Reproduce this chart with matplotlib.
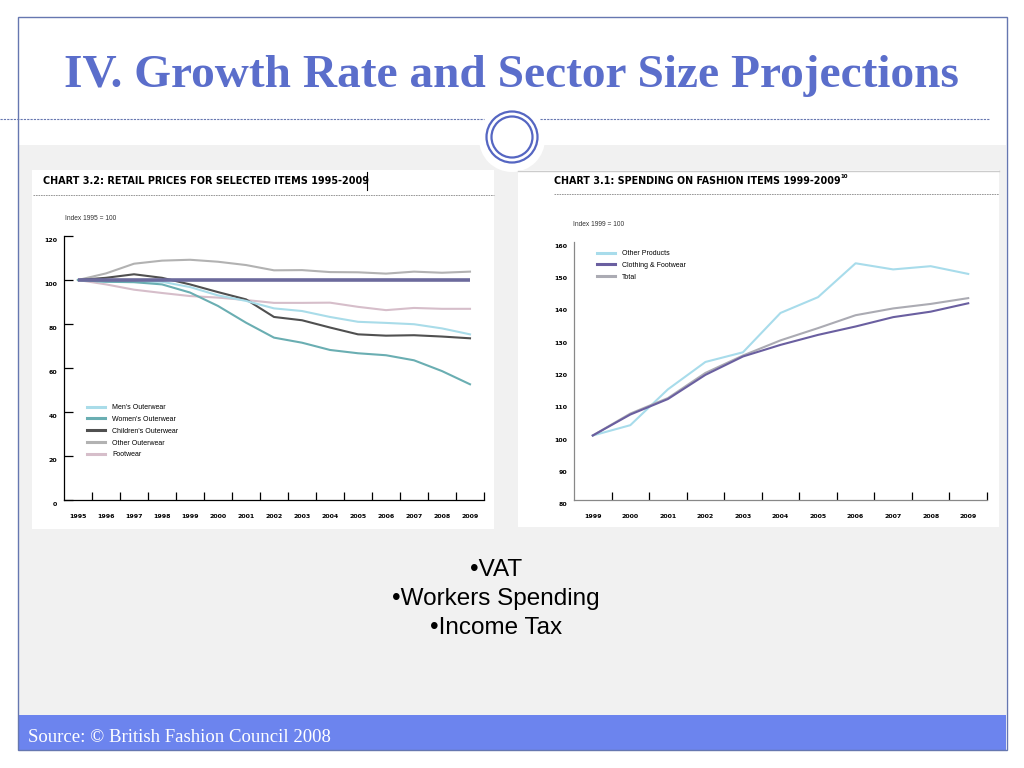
import matplotlib
matplotlib.use("Agg")
import matplotlib.pyplot as plt
from matplotlib.patches import Rectangle, Circle
from matplotlib.transforms import ScaledTranslation

# ─────────────────────────────────────────────
# Data
# ─────────────────────────────────────────────
YEARS_PRICES = ["1995", "1996", "1997", "1998", "1999", "2000", "2001", "2002",
                "2003", "2004", "2005", "2006", "2007", "2008", "2009"]
MENS_OUTERWEAR      = [100, 99.2, 99.2, 99.2, 96.8, 93.0, 90.5, 87.1, 85.9, 83.2, 81.0, 80.5, 79.9, 78.0, 75.3]
WOMENS_OUTERWEAR    = [100, 99.2, 99.0, 98.0, 94.3, 88.2, 80.6, 73.8, 71.5, 68.2, 66.7, 65.8, 63.5, 58.6, 52.6]
CHILDRENS_OUTERWEAR = [100, 101.0, 102.6, 101.0, 98.0, 94.5, 91.2, 83.2, 81.7, 78.4, 75.3, 74.7, 74.9, 74.3, 73.5]
OTHER_OUTERWEAR     = [100, 103.0, 107.4, 108.8, 109.2, 108.3, 106.8, 104.4, 104.5, 103.6, 103.5, 102.9, 103.8, 103.3, 103.8]
FOOTWEAR            = [100, 98.0, 95.6, 94.1, 92.7, 92.0, 90.9, 89.6, 89.6, 89.7, 87.8, 86.3, 87.3, 86.9, 86.9]
INDEX_BASE = 100

YEARS_SPEND = ["1999", "2000", "2001", "2002", "2003", "2004", "2005", "2006",
               "2007", "2008", "2009"]
OTHER_PRODUCTS = [100, 103.2, 114.3, 122.8, 125.8, 138.0, 142.9, 153.4, 151.5, 152.5, 150.1]
CLOTHING_FOOT  = [100, 106.5, 111.3, 118.8, 124.5, 128.1, 131.2, 133.8, 136.7, 138.4, 141.0]
TOTAL_SPEND    = [100, 106.8, 111.6, 119.4, 124.8, 129.5, 133.3, 137.3, 139.4, 140.8, 142.6]

BULLETS = ["•VAT", "•Workers Spending", "•Income Tax"]

# ─────────────────────────────────────────────
# Style
# ─────────────────────────────────────────────
W, H = 1024, 768
BLUE_TITLE = "#5B6ECB"
FRAME      = "#6677B0"
FOOTER     = "#6C84EE"
GREY_BG    = "#F1F1F1"

fig = plt.figure(figsize=(W / 100, H / 100), dpi=100, facecolor="white")
renderer = fig.canvas.get_renderer()


def rect(l, t, r, b):
    """pixel box -> figure fraction rect"""
    return [l / W, 1 - b / H, (r - l) / W, (b - t) / H]


def fit_width(txt, target_px):
    """rescale a text so it spans target_px"""
    w = txt.get_window_extent(renderer).width
    txt.set_fontsize(txt.get_fontsize() * target_px / w)


# background layer in pixel coordinates
bg = fig.add_axes([0, 0, 1, 1])
bg.set_xlim(0, W)
bg.set_ylim(H, 0)
bg.axis("off")

bg.add_patch(Rectangle((18, 145), 988, 570, color=GREY_BG, lw=0))
bg.add_patch(Circle((512, 139), 33, color="white", lw=0))
bg.add_patch(Circle((512, 137), 25.5, fill=False, ec="#5566C2", lw=1.6))
bg.add_patch(Circle((512, 137), 20.5, fill=False, ec="#5566C2", lw=1.6))
bg.add_patch(Rectangle((18, 715), 988, 35, color=FOOTER, lw=0))
bg.add_patch(Rectangle((17.5, 17), 989, 733, fill=False, ec=FRAME, lw=1))

for x0, x1 in [(0, 484), (540, 990)]:
    bg.plot([x0, x1], [119, 119], color=FRAME, lw=0.8, ls=(0, (2, 1)))

t = bg.text(511, 76, "IV. Growth Rate and Sector Size Projections", ha="center", va="center",
            family="Liberation Serif", weight="bold", fontsize=32, color=BLUE_TITLE)
fit_width(t, 898)
t = bg.text(28, 738, "Source: © British Fashion Council 2008", ha="left", va="center",
            family="Liberation Serif", fontsize=13, color="white")
fit_width(t, 301)

for i, b in enumerate(BULLETS):
    bg.text(496, 570 + i * 29, b, ha="center", va="center",
            family="Liberation Sans", fontsize=17.5, color="black")

# chart boxes
bg.add_patch(Rectangle((32, 170), 462, 359, color="white", lw=0))
bg.add_patch(Rectangle((518, 170), 481, 357, color="white", lw=0))
bg.plot([518, 999], [170.5, 170.5], color="#CCCCCC", lw=1)

t = bg.text(43, 181, "CHART 3.2: RETAIL PRICES FOR SELECTED ITEMS 1995-2009", ha="left", va="center",
            family="DejaVu Sans", stretch="condensed", weight="bold", fontsize=9, color="black")
fit_width(t, 323)
bg.plot([367, 367], [172, 190], color="black", lw=0.8)
bg.plot([33, 494], [195, 195], color="#888888", lw=0.6, ls=(0, (2, 1)))
bg.text(65, 218, "Index 1995 = 100", ha="left", va="center",
        family="Liberation Sans", fontsize=4.8, color="#333333")

t = bg.text(554, 181, "CHART 3.1: SPENDING ON FASHION ITEMS 1999-2009", ha="left", va="center",
            family="DejaVu Sans", stretch="condensed", weight="bold", fontsize=9, color="black")
fit_width(t, 285)
bg.text(840, 177, "10", ha="left", va="center",
        family="DejaVu Sans", weight="bold", fontsize=4, color="black")
bg.plot([554, 999], [194, 194], color="#888888", lw=0.6, ls=(0, (2, 1)))
bg.text(573, 225, "Index 1999 = 100", ha="left", va="center",
        family="Liberation Sans", fontsize=4.8, color="#333333")


def style_axis(ax, n, spine_color, ylabel_shift):
    ax.patch.set_alpha(0)
    for s in ["top", "right"]:
        ax.spines[s].set_visible(False)
    for s in ["left", "bottom"]:
        ax.spines[s].set_color(spine_color)
        ax.spines[s].set_linewidth(0.9)
    ax.set_xlim(-0.5, n - 0.5)
    ax.set_xticks(range(n))
    ax.set_xticks([i + 0.5 for i in range(n)], minor=True)
    ax.tick_params(axis="x", which="major", length=0, pad=10, labelsize=4.5)
    ax.tick_params(axis="x", which="minor", direction="in", length=5.5, width=0.9, color="black")
    for lab in ax.get_xticklabels() + ax.get_yticklabels():
        lab.set_fontweight("bold")
        lab.set_family("DejaVu Sans")
    for lab in ax.get_yticklabels():
        lab.set_transform(lab.get_transform() + ScaledTranslation(0, -ylabel_shift / 100, fig.dpi_scale_trans))


def small_legend(ax, order, top_px, left_px):
    h, l = ax.get_legend_handles_labels()
    hh = [h[l.index(o)] for o in order]
    leg = ax.legend(hh, order, loc="upper left", bbox_to_anchor=(left_px / W, 1 - top_px / H),
                    bbox_transform=fig.transFigure, frameon=False, borderpad=0, borderaxespad=0,
                    handlelength=2.6, handletextpad=1.0, labelspacing=0.7,
                    prop={"family": "Liberation Sans", "size": 5})
    for ln in leg.get_lines():
        ln.set_linewidth(2.2)


# ─────────────────────────────────────────────
# Chart 3.2 — retail prices
# ─────────────────────────────────────────────
ax1 = fig.add_axes(rect(64, 236, 484, 500))
x1 = range(len(YEARS_PRICES))
ax1.hlines(INDEX_BASE, 0, len(YEARS_PRICES) - 1, color="#6C6A9C", lw=2.6, zorder=5)
ax1.plot(x1, OTHER_OUTERWEAR, color="#B2B2B2", lw=1.5, label="Other Outerwear")
ax1.plot(x1, FOOTWEAR, color="#D6BECA", lw=1.5, label="Footwear")
ax1.plot(x1, CHILDRENS_OUTERWEAR, color="#505050", lw=1.5, label="Children's Outerwear")
ax1.plot(x1, MENS_OUTERWEAR, color="#A9DCE9", lw=1.5, label="Men's Outerwear")
ax1.plot(x1, WOMENS_OUTERWEAR, color="#6AAEB2", lw=1.5, label="Women's Outerwear")
ax1.set_ylim(0, 120)
ax1.set_yticks([0, 20, 40, 60, 80, 100, 120])
ax1.set_xticklabels(YEARS_PRICES)
ax1.tick_params(axis="y", direction="in", length=6.5, width=0.9, pad=5, labelsize=4.5)
style_axis(ax1, len(YEARS_PRICES), "black", 4)
small_legend(ax1, ["Men's Outerwear", "Women's Outerwear", "Children's Outerwear",
                   "Other Outerwear", "Footwear"], 404, 87)

# ─────────────────────────────────────────────
# Chart 3.1 — spending on fashion items
# ─────────────────────────────────────────────
ax2 = fig.add_axes(rect(574, 242, 987, 500))
x2 = range(len(YEARS_SPEND))
ax2.plot(x2, OTHER_PRODUCTS, color="#A8DCEB", lw=1.5, label="Other Products")
ax2.plot(x2, TOTAL_SPEND, color="#ABABB3", lw=1.5, label="Total")
ax2.plot(x2, CLOTHING_FOOT, color="#6A5FA0", lw=1.5, label="Clothing & Footwear")
ax2.set_ylim(80, 160)
ax2.set_yticks(range(80, 161, 10))
ax2.set_xticklabels(YEARS_SPEND)
ax2.tick_params(axis="y", length=0, pad=5, labelsize=4.5)
style_axis(ax2, len(YEARS_SPEND), "#888888", 4)
small_legend(ax2, ["Other Products", "Clothing & Footwear", "Total"], 250, 597)

fig.savefig("out.png", dpi=100, facecolor="white")
